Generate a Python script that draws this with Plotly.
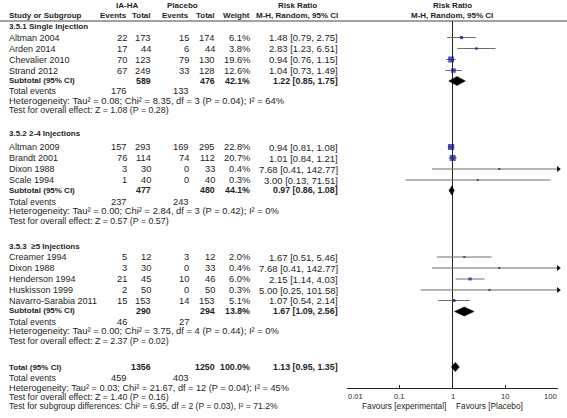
import math
import plotly.graph_objects as go

# ---------------- DATA ----------------
s1_title = "3.5.1 Single Injection"
s1_names = ["Altman 2004", "Arden 2014", "Chevalier 2010", "Strand 2012"]
s1_ev1 = [22, 17, 70, 67]
s1_n1 = [173, 44, 123, 249]
s1_ev2 = [15, 6, 79, 33]
s1_n2 = [174, 44, 130, 128]
s1_w = [6.1, 3.8, 19.6, 12.6]
s1_rr = [1.48, 2.83, 0.94, 1.04]
s1_lo = [0.79, 1.23, 0.76, 0.73]
s1_hi = [2.75, 6.51, 1.15, 1.49]
s1_sub = dict(n1=589, n2=476, w=42.1, rr=1.22, lo=0.85, hi=1.75, te1=176, te2=133)
s1_het = "Heterogeneity: Tau² = 0.08; Chi² = 8.35, df = 3 (P = 0.04); I² = 64%"
s1_test = "Test for overall effect: Z = 1.08 (P = 0.28)"

s2_title = "3.5.2 2-4 Injections"
s2_names = ["Altman 2009", "Brandt 2001", "Dixon 1988", "Scale 1994"]
s2_ev1 = [157, 76, 3, 1]
s2_n1 = [293, 114, 30, 40]
s2_ev2 = [169, 74, 0, 0]
s2_n2 = [295, 112, 33, 40]
s2_w = [22.8, 20.7, 0.4, 0.3]
s2_rr = [0.94, 1.01, 7.68, 3.00]
s2_lo = [0.81, 0.84, 0.41, 0.13]
s2_hi = [1.08, 1.21, 142.77, 71.51]
s2_sub = dict(n1=477, n2=480, w=44.1, rr=0.97, lo=0.86, hi=1.08, te1=237, te2=243)
s2_het = "Heterogeneity: Tau² = 0.00; Chi² = 2.84, df = 3 (P = 0.42); I² = 0%"
s2_test = "Test for overall effect: Z = 0.57 (P = 0.57)"

s3_title = "3.5.3  ≥5 Injections"
s3_names = ["Creamer 1994", "Dixon 1988", "Henderson 1994", "Huskisson 1999", "Navarro-Sarabia 2011"]
s3_ev1 = [5, 3, 21, 2, 15]
s3_n1 = [12, 30, 45, 50, 153]
s3_ev2 = [3, 0, 10, 0, 14]
s3_n2 = [12, 33, 46, 50, 153]
s3_w = [2.0, 0.4, 6.0, 0.3, 5.1]
s3_rr = [1.67, 7.68, 2.15, 5.00, 1.07]
s3_lo = [0.51, 0.41, 1.14, 0.25, 0.54]
s3_hi = [5.46, 142.77, 4.03, 101.58, 2.14]
s3_sub = dict(n1=290, n2=294, w=13.8, rr=1.67, lo=1.09, hi=2.56, te1=46, te2=27)
s3_het = "Heterogeneity: Tau² = 0.00; Chi² = 3.75, df = 4 (P = 0.44); I² = 0%"
s3_test = "Test for overall effect: Z = 2.37 (P = 0.02)"

tot = dict(n1=1356, n2=1250, w=100.0, rr=1.13, lo=0.95, hi=1.35, te1=459, te2=403)
tot_het = "Heterogeneity: Tau² = 0.03; Chi² = 21.67, df = 12 (P = 0.04); I² = 45%"
tot_test = "Test for overall effect: Z = 1.40 (P = 0.16)"
tot_sub = "Test for subgroup differences: Chi² = 6.95, df = 2 (P = 0.03), I² = 71.2%"

tick_vals = [0.01, 0.1, 1, 10, 100]
tick_text = ["0.01", "0.1", "1", "10", "100"]
favours_left = "Favours [experimental]"
favours_right = "Favours [Placebo]"

# ---------------- LAYOUT (pixel positions / styles) ----------------
W, H = 567, 418
FONT = "Liberation Sans, Arial, sans-serif"
FS_NAME, FS_TE, FS_NUM, FS_CI, FS_HET, FS_TEST = 9.0, 8.8, 9.3, 9.5, 9.4, 8.8
FS_BOLD, FS_BOLDNUM, FS_TICK, FS_FAV = 8.0, 8.8, 7.6, 8.3
TXT = "#1e1e1e"
X_NAME, X_E1, X_N1, X_E2, X_N2, X_W, X_CI = 7.5, 128, 152, 190, 216, 251, 338.5
PLOT_L, PLOT_R = 346.7, 558.3
AXIS_Y, TOP_LINE_Y = 388, 21

sec_layout = [
    dict(title=26, rows=[37.5, 48.5, 59.5, 70.5], sub=80.5, diam=81, te=91, het=100.5, test=109.5),
    dict(title=133.5, rows=[147, 158, 169, 180], sub=190, diam=190.5, te=201.5, het=210.5, test=220.5),
    dict(title=246, rows=[257, 268, 279, 290, 300.5], sub=310.5, diam=311.5, te=321.5, het=330.5, test=340.5),
]
tot_layout = dict(row=367, te=378, het=387.5, test=396.5, subg=405.5)
tot_het_size, tot_sub_size = 9.2, 8.6

sections = [
    (s1_title, s1_names, s1_ev1, s1_n1, s1_ev2, s1_n2, s1_w, s1_rr, s1_lo, s1_hi, s1_sub, s1_het, s1_test),
    (s2_title, s2_names, s2_ev1, s2_n1, s2_ev2, s2_n2, s2_w, s2_rr, s2_lo, s2_hi, s2_sub, s2_het, s2_test),
    (s3_title, s3_names, s3_ev1, s3_n1, s3_ev2, s3_n2, s3_w, s3_rr, s3_lo, s3_hi, s3_sub, s3_het, s3_test),
]

ann = []


def t(x, y, s, anchor="left", bold=False, size=FS_NAME, xref="x"):
    ann.append(dict(x=x, y=y, xref=xref, yref="y", text=("<b>%s</b>" % s) if bold else s,
                    showarrow=False, xanchor=anchor, yanchor="middle",
                    font=dict(family=FONT, size=size, color=TXT), borderpad=0))


def ci_txt(rr, lo, hi):
    return "%.2f [%.2f, %.2f]" % (rr, lo, hi)


# headers
t(127, 5, "IA-HA", "center", True, FS_BOLD)
t(182, 5, "Placebo", "center", True, FS_BOLD)
t(297, 5, "Risk Ratio", "center", True, FS_BOLD)
t(452, 5, "Risk Ratio", "center", True, FS_BOLD)
t(X_NAME, 15.5, "Study or Subgroup", "left", True, FS_BOLD)
t(X_E1, 15.5, "Events", "right", True, FS_BOLD)
t(X_N1, 15.5, "Total", "right", True, FS_BOLD)
t(X_E2, 15.5, "Events", "right", True, FS_BOLD)
t(X_N2, 15.5, "Total", "right", True, FS_BOLD)
t(X_W, 15.5, "Weight", "right", True, FS_BOLD)
t(X_CI, 15.5, "M-H, Random, 95% CI", "right", True, FS_BOLD)
t(452, 15.5, "M-H, Random, 95% CI", "center", True, FS_BOLD)

fig = go.Figure()

ci_x, ci_y = [], []
sq_x, sq_y, sq_s = [], [], []
ar_x, ar_y = [], []
diamonds = []

for (title, names, ev1, n1, ev2, n2, w, rr, lo, hi, sub, het, test), L in zip(sections, sec_layout):
    t(X_NAME, L["title"], title, "left", True, FS_BOLD)
    for i, nm in enumerate(names):
        y = L["rows"][i]
        t(X_NAME, y, nm, size=FS_NAME)
        t(X_E1, y, str(ev1[i]), "right", size=FS_NUM)
        t(X_N1, y, str(n1[i]), "right", size=FS_NUM)
        t(X_E2, y, str(ev2[i]), "right", size=FS_NUM)
        t(X_N2, y, str(n2[i]), "right", size=FS_NUM)
        t(X_W, y, "%.1f%%" % w[i], "right", size=FS_NUM)
        t(X_CI, y, ci_txt(rr[i], lo[i], hi[i]), "right", size=FS_CI)
        ci_x += [max(lo[i], 0.01), min(hi[i], 100), None]
        ci_y += [y, y, None]
        sq_x.append(rr[i]); sq_y.append(y); sq_s.append(max(2.0, 1.3 * math.sqrt(w[i])))
        if hi[i] > 100:
            ar_x.append(100); ar_y.append(y)
    y = L["sub"]
    t(X_NAME, y, "Subtotal (95% CI)", "left", True, FS_BOLD)
    t(X_N1, y, str(sub["n1"]), "right", True, FS_BOLDNUM)
    t(X_N2, y, str(sub["n2"]), "right", True, FS_BOLDNUM)
    t(X_W, y, "%.1f%%" % sub["w"], "right", True, FS_BOLDNUM)
    t(X_CI, y, ci_txt(sub["rr"], sub["lo"], sub["hi"]), "right", True, FS_BOLDNUM)
    diamonds.append((sub["lo"], sub["rr"], sub["hi"], L["diam"]))
    t(X_NAME, L["te"], "Total events", size=FS_TE)
    t(X_E1, L["te"], str(sub["te1"]), "right", size=FS_NUM)
    t(X_E2, L["te"], str(sub["te2"]), "right", size=FS_NUM)
    t(X_NAME, L["het"], het, size=FS_HET)
    t(X_NAME, L["test"], test, size=FS_TEST)

y = tot_layout["row"]
t(X_NAME, y, "Total (95% CI)", "left", True, FS_BOLD)
t(X_N1, y, str(tot["n1"]), "right", True, FS_BOLDNUM)
t(X_N2, y, str(tot["n2"]), "right", True, FS_BOLDNUM)
t(X_W, y, "%.1f%%" % tot["w"], "right", True, FS_BOLDNUM)
t(X_CI, y, ci_txt(tot["rr"], tot["lo"], tot["hi"]), "right", True, FS_BOLDNUM)
diamonds.append((tot["lo"], tot["rr"], tot["hi"], y))
t(X_NAME, tot_layout["te"], "Total events", size=FS_TE)
t(X_E1, tot_layout["te"], str(tot["te1"]), "right", size=FS_NUM)
t(X_E2, tot_layout["te"], str(tot["te2"]), "right", size=FS_NUM)
t(X_NAME, tot_layout["het"], tot_het, size=tot_het_size)
t(X_NAME, tot_layout["test"], tot_test, size=FS_TEST)
t(X_NAME, tot_layout["subg"], tot_sub, size=tot_sub_size)

# tick labels & favours on the log axis
for v, s in zip(tick_vals, tick_text):
    anchor = "left" if v == tick_vals[0] else ("right" if v == tick_vals[-1] else "center")
    t(math.log10(v), 396, s, anchor, size=FS_TICK, xref="x2")
t(math.log10(0.78), 406, favours_left, "right", size=FS_FAV, xref="x2")
t(math.log10(1.1), 406, favours_right, "left", size=FS_FAV, xref="x2")

# vertical line of no effect
fig.add_trace(go.Scatter(x=[1, 1], y=[TOP_LINE_Y, AXIS_Y], xaxis="x2", yaxis="y", mode="lines",
                         line=dict(color="#222", width=1), hoverinfo="skip", showlegend=False))
# CI lines
fig.add_trace(go.Scatter(x=ci_x, y=ci_y, xaxis="x2", yaxis="y", mode="lines",
                         line=dict(color="#6e6e6e", width=1), hoverinfo="skip", showlegend=False))
# squares
fig.add_trace(go.Scatter(x=sq_x, y=sq_y, xaxis="x2", yaxis="y", mode="markers",
                         marker=dict(symbol="square", size=sq_s, color="#0a0a9a", line=dict(width=0)),
                         hoverinfo="skip", showlegend=False))
# arrows for CIs beyond the axis
fig.add_trace(go.Scatter(x=ar_x, y=ar_y, xaxis="x2", yaxis="y", mode="markers", cliponaxis=False,
                         marker=dict(symbol="triangle-right", size=5, color="#111", line=dict(width=0)),
                         hoverinfo="skip", showlegend=False))
# diamonds for pooled estimates
for lo, rr, hi, yy in diamonds:
    h = 4.6
    fig.add_trace(go.Scatter(x=[lo, rr, hi, rr, lo], y=[yy, yy - h, yy, yy + h, yy], xaxis="x2", yaxis="y",
                             mode="lines", fill="toself", fillcolor="#000", line=dict(color="#000", width=0.5),
                             hoverinfo="skip", showlegend=False))

fig.add_shape(type="line", xref="paper", yref="y", x0=0, x1=1, y0=TOP_LINE_Y, y1=TOP_LINE_Y,
              line=dict(color="#444", width=1))
fig.update_layout(
    width=W, height=H, margin=dict(l=0, r=0, t=0, b=0),
    paper_bgcolor="white", plot_bgcolor="rgba(0,0,0,0)",
    xaxis=dict(domain=[0, 1], range=[0, W], visible=False, fixedrange=True),
    yaxis=dict(domain=[0, 1], range=[H, 0], visible=False, fixedrange=True),
    xaxis2=dict(type="log", domain=[PLOT_L / W, PLOT_R / W], range=[-2, 2], anchor="free",
                position=1 - AXIS_Y / H, showline=True, linecolor="#222", linewidth=1,
                ticks="inside", ticklen=3, tickcolor="#222", tickvals=tick_vals,
                showticklabels=False, showgrid=False, zeroline=False, fixedrange=True),
    annotations=ann,
    showlegend=False,
)

fig.write_html("out.html", config={"displayModeBar": False},
               post_script="document.body.style.margin='0';document.body.style.padding='0';")
